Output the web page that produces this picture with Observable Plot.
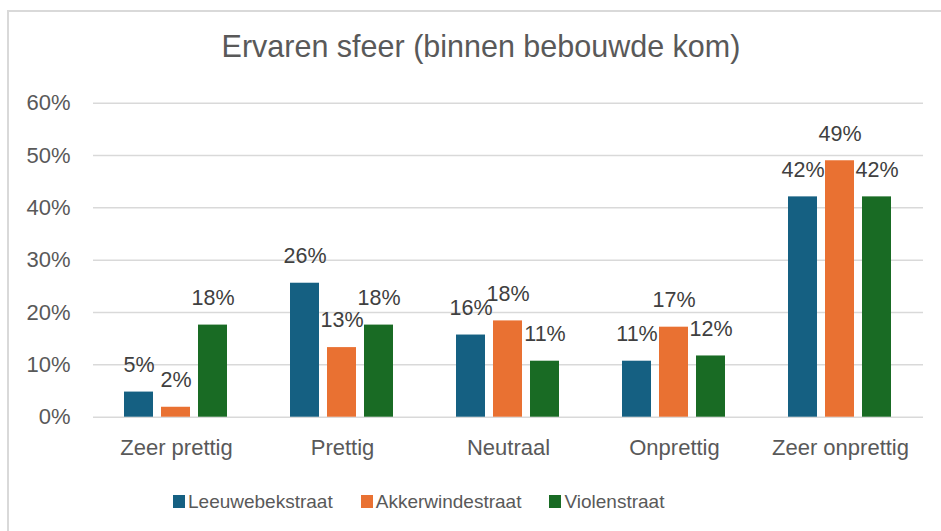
<!DOCTYPE html>
<html>
<head>
<meta charset="utf-8">
<script src="https://cdn.jsdelivr.net/npm/d3@7"></script>
<script src="https://cdn.jsdelivr.net/npm/@observablehq/plot@0.6"></script>
<style>
  html, body { margin: 0; padding: 0; background: #fff; overflow: hidden; }
  #wrap { position: relative; width: 941px; height: 531px; overflow: hidden; font-family: "Liberation Sans", Arial, sans-serif; }
  #frame { position: absolute; left: 7px; top: 10px; width: 1000px; height: 600px; border-left: 2px solid #d9d9d9; border-top: 2px solid #d9d9d9; box-sizing: border-box; }
  #title { position: absolute; left: 7px; width: 948px; top: 31px; text-align: center; font-size: 30.5px; line-height: 30.5px; color: #595959; }
  #chart { position: absolute; left: 0; top: 0; }
  #legend { position: absolute; left: 173px; top: 492px; display: flex; font-size: 19px; line-height: 19px; color: #595959; }
  .item { display: flex; align-items: center; margin-right: 28px; }
  .sw { width: 12px; height: 13px; margin-right: 3px; display: inline-block; }
</style>
</head>
<body>
<div id="wrap">
  <div id="frame"></div>
  <div id="title">Ervaren sfeer (binnen bebouwde kom)</div>
  <div id="chart"></div>
  <div id="legend"></div>
</div>
<script>
const categories = ["Zeer prettig", "Prettig", "Neutraal", "Onprettig", "Zeer onprettig"];
const series = ["Leeuwebekstraat", "Akkerwindestraat", "Violenstraat"];
const colors = ["#156082", "#E97132", "#196B24"];
const leeuwebekstraat = [0.048, 0.256, 0.157, 0.107, 0.421];
const akkerwindestraat = [0.019, 0.133, 0.184, 0.172, 0.490];
const violenstraat = [0.176, 0.176, 0.107, 0.117, 0.421];
const yTicks = [0, 0.1, 0.2, 0.3, 0.4, 0.5, 0.6];

const seriesValues = [leeuwebekstraat, akkerwindestraat, violenstraat];
const data = [];
categories.forEach((c, i) => {
  series.forEach((s, j) => {
    data.push({category: c, series: s, value: seriesValues[j][i]});
  });
});

const pct = d3.format(".0%");

const chart = Plot.plot({
  width: 941,
  height: 480,
  marginTop: 102.7,
  marginBottom: 63.3,
  marginLeft: 93,
  marginRight: 18,
  style: {fontFamily: "'Liberation Sans', Arial, sans-serif", background: "transparent"},
  fx: {domain: categories, padding: 0},
  x: {domain: series, paddingInner: 0.216, paddingOuter: 0.851, axis: null},
  y: {domain: [0, 0.6], axis: null},
  color: {domain: series, range: colors},
  marks: [
    Plot.gridY(yTicks, {stroke: "#d9d9d9", strokeOpacity: 1, strokeWidth: 1.5}),
    Plot.axisY(yTicks, {tickSize: 0, tickPadding: 23, tickFormat: pct, fontSize: 22, fill: "#595959", label: null}),
    Plot.axisFx({anchor: "bottom", tickSize: 0, tickPadding: 22, fontSize: 22, fill: "#595959", label: null}),
    Plot.barY(data, {fx: "category", x: "series", y: "value", fill: "series"}),
    Plot.text(data, {fx: "category", x: "series", y: "value", text: d => pct(d.value), dy: -27, lineAnchor: "middle", fontSize: 21.5, fill: "#404040"})
  ]
});
document.getElementById("chart").appendChild(chart);

const legend = document.getElementById("legend");
series.forEach((s, i) => {
  const item = document.createElement("div");
  item.className = "item";
  const sw = document.createElement("span");
  sw.className = "sw";
  sw.style.background = colors[i];
  const lab = document.createElement("span");
  lab.textContent = s;
  item.appendChild(sw);
  item.appendChild(lab);
  legend.appendChild(item);
});
</script>
</body>
</html>
